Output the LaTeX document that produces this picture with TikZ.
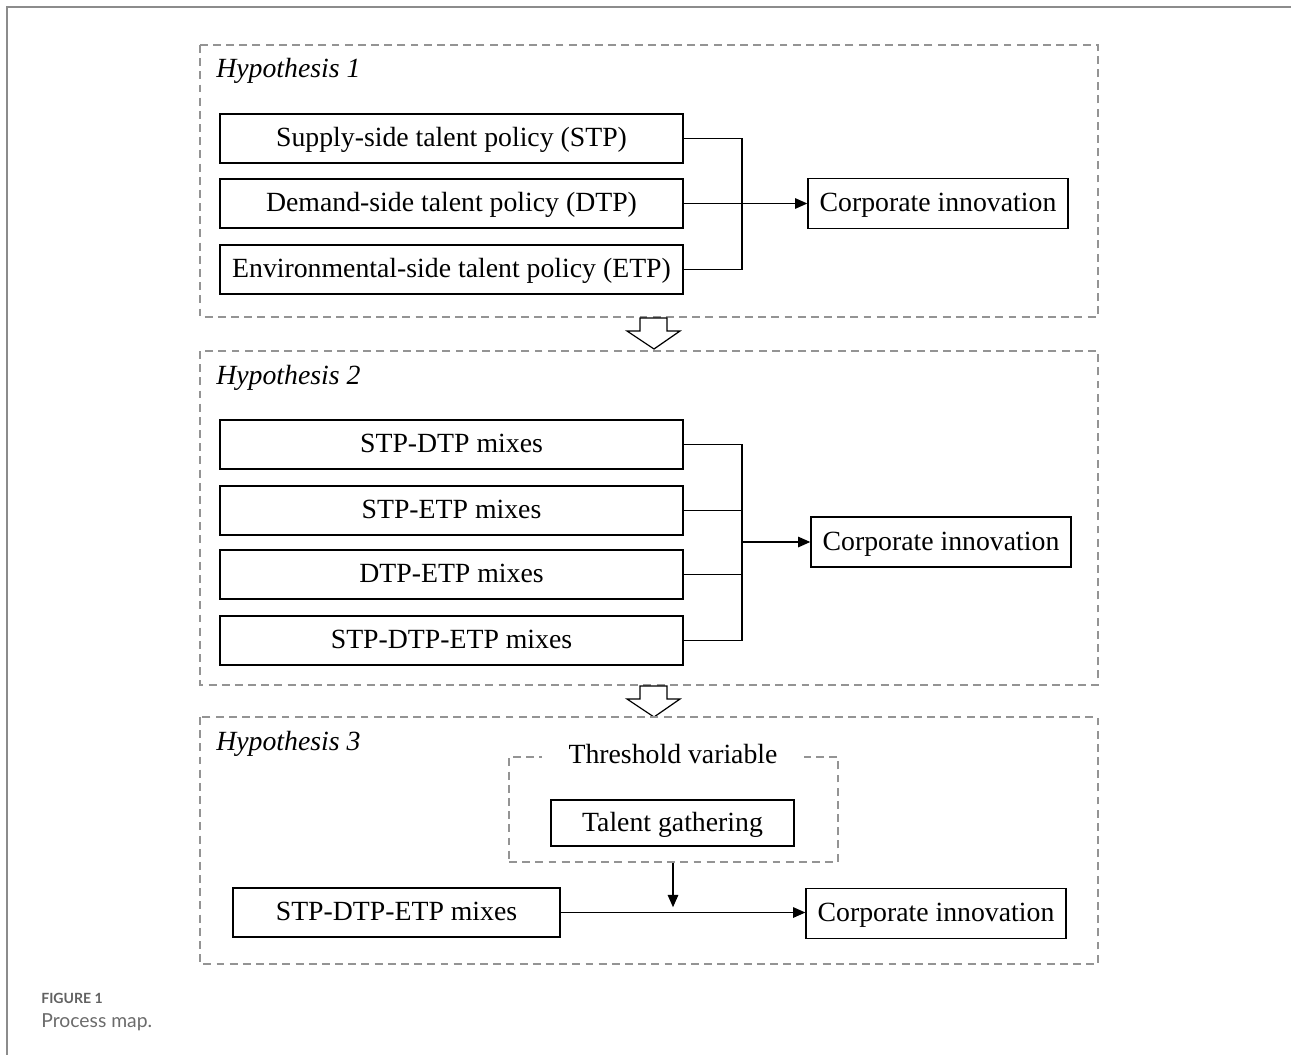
\documentclass[tikz,border=0pt]{standalone}
\usepackage{fontspec}
\setmainfont{Liberation Serif}
\newfontfamily\capfont{Lato}
\usetikzlibrary{arrows.meta,positioning}

\begin{document}
\begin{tikzpicture}[x=0.02cm,y=-0.02cm]
\tikzset{
  boxtext/.style={font=\fontsize{15.8}{18}\selectfont,text height=11pt,text depth=1.5pt},
  policybox/.style={rectangle,draw,line width=0.8pt,minimum width=9.26cm,minimum height=0.98cm,inner sep=0pt,boxtext},
  outbox/.style={rectangle,draw,line width=0.8pt,minimum width=5.2cm,minimum height=1.0cm,inner sep=0pt,boxtext},
  hypframe/.style={draw=black!42,line width=0.7pt,dash pattern=on 4.5pt off 3pt},
  hyptitle/.style={anchor=base west,inner sep=0pt,font=\fontsize{15.8}{18}\selectfont\itshape},
  link/.style={line width=0.75pt},
  directed/.style={line width=0.75pt,-{Triangle[length=7pt,width=6pt]}},
  stagearrow/.style={draw,line width=0.7pt,fill=white,line join=miter}
}
\useasboundingbox (0,0) rectangle (1291,1055);
\draw[black!45,line width=0.7pt] (1291,7) -- (7,7) -- (7,1055);

% Hypothesis 1
\draw[hypframe] (200,45) rectangle (1098,317);
\node[hyptitle] (h1) at (216,77) {Hypothesis 1};
\node[policybox] (stp) at (451.5,138.5) {Supply-side talent policy (STP)};
\node[policybox] (dtp) at (451.5,203.5) {Demand-side talent policy (DTP)};
\node[policybox] (etp) at (451.5,269.5) {Environmental-side talent policy (ETP)};
\node[outbox] (ci1) at (938,203.5) {Corporate innovation};
\coordinate (j1) at (742,203.5);
\draw[link] (stp.east) -| (j1);
\draw[link] (etp.east) -| (j1);
\draw[directed] (dtp.east) -- (ci1.west);

\draw[stagearrow] (640,318) -- (667,318) -- (667,331) -- (680,331) -- (654,349) -- (627,331) -- (640,331) -- cycle;

% Hypothesis 2
\draw[hypframe] (200,351) rectangle (1098,685);
\node[hyptitle] (h2) at (216,384) {Hypothesis 2};
\node[policybox] (m1) at (451.5,444.5) {STP-DTP mixes};
\node[policybox] (m2) at (451.5,510.5) {STP-ETP mixes};
\node[policybox] (m3) at (451.5,574.5) {DTP-ETP mixes};
\node[policybox] (m4) at (451.5,640.5) {STP-DTP-ETP mixes};
\node[outbox] (ci2) at (941,542) {Corporate innovation};
\coordinate (j2) at (742,542);
\draw[link] (m1.east) -| (j2);
\draw[link] (m4.east) -| (j2);
\draw[link] (m2.east) -- (m2.east -| j2);
\draw[link] (m3.east) -- (m3.east -| j2);
\draw[directed] (j2) -- (ci2.west);

\draw[stagearrow] (640,686) -- (667,686) -- (667,699) -- (680,699) -- (654,717) -- (627,699) -- (640,699) -- cycle;

% Hypothesis 3
\draw[hypframe] (200,717) rectangle (1098,964);
\node[hyptitle] (h3) at (216,750) {Hypothesis 3};
\node[hypframe,rectangle,minimum width=6.58cm,minimum height=2.1cm] (thr) at (673.5,809.5) {};
\node[fill=white,inner xsep=15pt,inner ysep=1pt,boxtext] (thrlabel) at (673,755) {Threshold variable};
\node[rectangle,draw,line width=0.8pt,minimum width=4.86cm,minimum height=0.92cm,inner sep=0pt,boxtext] (tg) at (672.5,823) {Talent gathering};
\node[rectangle,draw,line width=0.8pt,minimum width=6.54cm,minimum height=0.98cm,inner sep=0pt,boxtext] (mix) at (396.5,912.5) {STP-DTP-ETP mixes};
\node[outbox] (ci3) at (936,913.5) {Corporate innovation};
\draw[directed] (mix.east) -- (mix.east -| ci3.west);
\draw[directed,shorten >=3pt] (thr.south -| 673,0) -- (673,912.5);

% caption
\node[anchor=base west,inner sep=0pt,text=black!62,font=\capfont\bfseries\fontsize{8}{9}\selectfont] (figno) at (41,1003) {FIGURE 1};
\node[anchor=base west,inner sep=0pt,text=black!58,font=\capfont\fontsize{11}{13}\selectfont] (figcap) at (41,1027) {Process map.};
\end{tikzpicture}
\end{document}
